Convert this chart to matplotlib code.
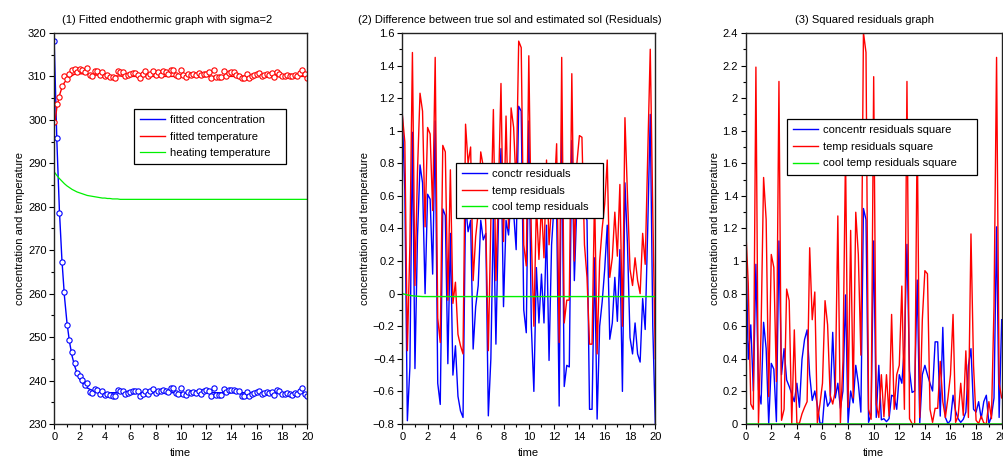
import numpy as np
import matplotlib
matplotlib.use("Agg")
import matplotlib.pyplot as plt
from matplotlib.ticker import MultipleLocator

plt.rcParams['font.family'] = ['Liberation Sans', 'DejaVu Sans']

time = np.linspace(0, 20, 101)

# residuals (true - estimated) (2)
conc_resid = [
    1.10, 0.63, -0.78, -0.45, 0.99, -0.46, 0.35, 0.79, 0.68, 0.00,
    0.61, 0.58, 0.12, 1.06, -0.55, -0.68, 0.52, 0.48, -0.43, 0.37,
    -0.50, -0.32, -0.63, -0.72, -0.76, 0.55, 0.38, 0.45, -0.34, -0.08,
    0.05, 0.45, 0.33, 0.37, -0.75, -0.40, 0.50, -0.31, 0.45, 0.89,
    -0.08, 0.45, 0.36, 0.60, 0.50, 0.27, 1.15, 1.12, -0.10, -0.24,
    1.06, -0.20, -0.60, 0.16, -0.18, 0.12, -0.18, 0.42, -0.41, 0.30,
    0.55, 0.50, -0.69, 1.05, -0.57, -0.44, -0.45, 0.94, 0.08, 0.55,
    0.60, 0.55, 0.50, 0.45, -0.71, -0.71, 0.22, -0.77, -0.20, -0.05,
    0.15, 0.42, -0.28, -0.18, 0.10, -0.17, 0.27, -0.60, 0.68, 0.30,
    -0.27, -0.37, -0.18, -0.37, -0.42, -0.03, -0.22, 0.40, 1.10, -0.20,
    -0.80]
temp_resid = [
    1.10, 0.93, -0.35, 0.30, 1.48, 0.05, 0.75, 1.23, 1.12, 0.41,
    1.02, 0.98, 0.51, 1.45, -0.15, -0.30, 0.91, 0.87, -0.04, 0.76,
    -0.06, 0.07, -0.25, -0.32, -0.37, 1.04, 0.80, 0.90, 0.08, 0.35,
    0.50, 0.87, 0.78, 0.42, -0.35, 0.45, 1.13, 0.08, 0.62, 1.29,
    0.32, 1.09, 0.40, 1.14, 1.02, 0.65, 1.55, 1.51, 0.30, 0.17,
    1.46, 0.35, -0.20, 0.55, 0.21, 0.55, 0.22, 0.82, 0.30, 0.55,
    0.60, 0.92, -0.30, 1.45, -0.18, -0.04, -0.04, 1.35, 0.20, 0.80,
    0.97, 0.96, 0.30, 0.10, -0.31, -0.31, 0.62, -0.37, 0.20, 0.40,
    0.55, 0.82, 0.10, 0.22, 0.50, 0.23, 0.67, -0.20, 1.08, 0.60,
    0.15, 0.05, 0.22, 0.08, 0.00, 0.37, 0.18, 0.85, 1.50, 0.50,
    -0.40]
cool_resid = [
    0.000, -0.004, -0.008, -0.011, -0.013, -0.015, -0.016, -0.017, -0.018, -0.018,
    -0.018, -0.018, -0.018, -0.018, -0.018, -0.018, -0.018, -0.018, -0.018, -0.018,
    -0.018, -0.018, -0.018, -0.018, -0.018, -0.018, -0.018, -0.018, -0.018, -0.018,
    -0.018, -0.018, -0.018, -0.018, -0.018, -0.018, -0.018, -0.018, -0.018, -0.018,
    -0.018, -0.018, -0.018, -0.018, -0.018, -0.018, -0.018, -0.018, -0.018, -0.018,
    -0.018, -0.018, -0.018, -0.018, -0.018, -0.018, -0.018, -0.018, -0.018, -0.018,
    -0.018, -0.018, -0.018, -0.018, -0.018, -0.018, -0.018, -0.018, -0.018, -0.018,
    -0.018, -0.018, -0.018, -0.018, -0.018, -0.018, -0.018, -0.018, -0.018, -0.018,
    -0.018, -0.018, -0.018, -0.018, -0.018, -0.018, -0.018, -0.018, -0.018, -0.018,
    -0.018, -0.018, -0.018, -0.018, -0.018, -0.018, -0.018, -0.018, -0.018, -0.018,
    -0.018]

# fitted curves (1)
fit_conc = [
    317.0, 295.2, 279.3, 267.8, 259.4, 253.3, 248.9, 245.7, 243.4, 241.7,
    240.4, 239.5, 238.8, 238.3, 238.0, 237.7, 237.6, 237.4, 237.3, 237.3,
    237.2, 237.2, 237.2, 237.2, 237.2, 237.2, 237.2, 237.2, 237.2, 237.2,
    237.2, 237.2, 237.2, 237.2, 237.2, 237.2, 237.2, 237.2, 237.2, 237.2,
    237.2, 237.2, 237.2, 237.2, 237.2, 237.2, 237.2, 237.2, 237.2, 237.2,
    237.2, 237.2, 237.2, 237.2, 237.2, 237.2, 237.2, 237.2, 237.2, 237.2,
    237.2, 237.2, 237.2, 237.2, 237.2, 237.2, 237.2, 237.2, 237.2, 237.2,
    237.2, 237.2, 237.2, 237.2, 237.2, 237.2, 237.2, 237.2, 237.2, 237.2,
    237.2, 237.2, 237.2, 237.2, 237.2, 237.2, 237.2, 237.2, 237.2, 237.2,
    237.2, 237.2, 237.2, 237.2, 237.2, 237.2, 237.2, 237.2, 237.2, 237.2,
    237.2]
fit_temp = [
    298.4, 302.8, 305.6, 307.4, 308.6, 309.3, 309.8, 310.2, 310.5, 310.6,
    310.6, 310.6, 310.5, 310.5, 310.4, 310.4, 310.3, 310.3, 310.3, 310.2,
    310.2, 310.2, 310.1, 310.1, 310.1, 310.1, 310.1, 310.0, 310.0, 310.0,
    310.0, 310.0, 310.0, 310.0, 310.0, 310.0, 310.0, 310.0, 310.0, 310.0,
    310.0, 310.0, 310.0, 310.0, 310.0, 310.0, 310.0, 310.0, 310.0, 310.0,
    310.0, 310.0, 310.0, 310.0, 310.0, 310.0, 310.0, 310.0, 310.0, 310.0,
    310.0, 310.0, 310.0, 310.0, 310.0, 310.0, 310.0, 310.0, 310.0, 310.0,
    310.0, 310.0, 310.0, 310.0, 310.0, 310.0, 310.0, 310.0, 310.0, 310.0,
    310.0, 310.0, 310.0, 310.0, 310.0, 310.0, 310.0, 310.0, 310.0, 310.0,
    310.0, 310.0, 310.0, 310.0, 310.0, 310.0, 310.0, 310.0, 310.0, 310.0,
    310.0]
heat_temp = [
    288.0, 287.2, 286.5, 285.9, 285.3, 284.8, 284.4, 284.0, 283.7, 283.4,
    283.2, 283.0, 282.8, 282.6, 282.5, 282.4, 282.3, 282.2, 282.1, 282.0,
    282.0, 281.9, 281.9, 281.8, 281.8, 281.8, 281.7, 281.7, 281.7, 281.7,
    281.7, 281.7, 281.7, 281.7, 281.7, 281.7, 281.7, 281.7, 281.7, 281.7,
    281.7, 281.7, 281.7, 281.7, 281.7, 281.7, 281.7, 281.7, 281.7, 281.7,
    281.7, 281.7, 281.7, 281.7, 281.7, 281.7, 281.7, 281.7, 281.7, 281.7,
    281.7, 281.7, 281.7, 281.7, 281.7, 281.7, 281.7, 281.7, 281.7, 281.7,
    281.7, 281.7, 281.7, 281.7, 281.7, 281.7, 281.7, 281.7, 281.7, 281.7,
    281.7, 281.7, 281.7, 281.7, 281.7, 281.7, 281.7, 281.7, 281.7, 281.7,
    281.7, 281.7, 281.7, 281.7, 281.7, 281.7, 281.7, 281.7, 281.7, 281.7,
    281.7]

conc_resid = np.array(conc_resid)
temp_resid = np.array(temp_resid)
cool_resid = np.array(cool_resid)
fit_conc = np.array(fit_conc)
fit_temp = np.array(fit_temp)
heat_temp = np.array(heat_temp)

# measured data = fitted + residual
data_conc = fit_conc + conc_resid
data_temp = fit_temp + temp_resid

BLUE = '#0000ff'
RED = '#ff0000'
GREEN = '#00f000'
FS = 8

fig = plt.figure(figsize=(10.04, 4.59), dpi=100)
bottom = 0.0763
height = 0.8519
ax1 = fig.add_axes([0.0541, bottom, 0.252, height])
ax2 = fig.add_axes([0.4007, bottom, 0.252, height])
ax3 = fig.add_axes([0.7427, bottom, 0.255, height])


def style(ax, ymin, ymax, ymaj, ymin_step):
    ax.set_xlim(0, 20)
    ax.set_ylim(ymin, ymax)
    ax.xaxis.set_major_locator(MultipleLocator(2))
    ax.xaxis.set_minor_locator(MultipleLocator(1))
    ax.yaxis.set_major_locator(MultipleLocator(ymaj))
    ax.yaxis.set_minor_locator(MultipleLocator(ymin_step))
    ax.tick_params(which='both', direction='out', top=False, right=False,
                   labelsize=FS, pad=2, width=0.8)
    ax.tick_params(which='major', length=3.5)
    ax.tick_params(which='minor', length=2)
    for s in ax.spines.values():
        s.set_linewidth(1.0)
        s.set_color('#222222')
    ax.set_xlabel('time', fontsize=FS, labelpad=4.5)
    ax.set_ylabel('concentration and temperature', fontsize=FS, labelpad=2)


# Panel 1
ax1.plot(time, fit_conc, color=BLUE, lw=1.0, label='fitted concentration')
ax1.plot(time, fit_temp, color=RED, lw=1.0, label='fitted temperature')
ax1.plot(time, heat_temp, color=GREEN, lw=0.9, label='heating temperature')
ax1.plot(time, data_conc, ls='none', marker='o', ms=3.8, mfc='white',
         mec=BLUE, mew=0.8)
ax1.plot(time, data_temp, ls='none', marker='o', ms=3.8, mfc='white',
         mec=RED, mew=0.8)
style(ax1, 230, 320, 10, 5)
ax1.set_title('(1) Fitted endothermic graph with sigma=2', fontsize=FS,
              pad=7, x=0.445)

# Panel 2
ax2.plot(time, conc_resid, color=BLUE, lw=1.0, label='conctr residuals')
ax2.plot(time, temp_resid, color=RED, lw=1.0, label='temp residuals')
ax2.plot(time, cool_resid, color=GREEN, lw=1.0, label='cool temp residuals')
style(ax2, -0.8, 1.6, 0.2, 0.1)
ax2.set_title('(2) Difference between true sol and estimated sol (Residuals)',
              fontsize=FS, pad=7, x=0.424)

# Panel 3
ax3.plot(time, conc_resid ** 2, color=BLUE, lw=1.0, label='concentr residuals square')
ax3.plot(time, temp_resid ** 2, color=RED, lw=1.0, label='temp residuals square')
ax3.plot(time, cool_resid ** 2, color=GREEN, lw=1.0, label='cool temp residuals square')
style(ax3, 0, 2.4, 0.2, 0.1)
ax3.set_title('(3) Squared residuals graph', fontsize=FS, pad=7, x=0.466)

for ax in (ax1, ax2, ax3):
    ax.yaxis.set_major_formatter(plt.FuncFormatter(
        lambda v, p: ('%g' % round(v, 6)).replace('-', '\u2212')))


def legend(ax, x, y, w):
    leg = ax.legend(loc='upper left', bbox_to_anchor=(x, y - 0.2, w, 0.2),
                    mode='expand', fontsize=FS,
                    frameon=True, fancybox=False, borderaxespad=0,
                    handlelength=2.25, handletextpad=0.45, labelspacing=0.6,
                    borderpad=0.55)
    leg.get_frame().set_edgecolor('black')
    leg.get_frame().set_linewidth(0.9)
    leg.get_frame().set_alpha(1)
    return leg


legend(ax1, 0.315, 0.806, 0.601)
legend(ax2, 0.212, 0.668, 0.581)
legend(ax3, 0.161, 0.780, 0.742)

fig.savefig('out.png', dpi=100)
